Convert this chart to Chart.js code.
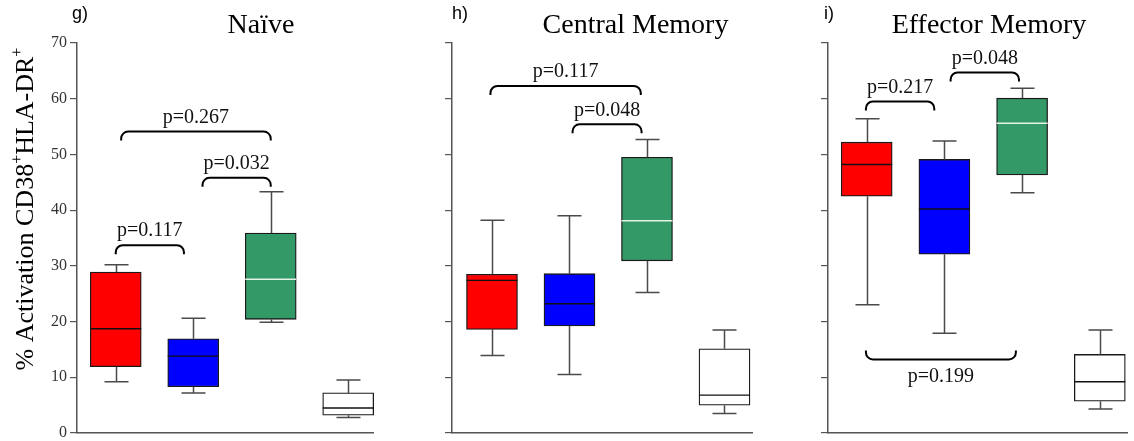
<!DOCTYPE html>
<html>
<head>
<meta charset="utf-8">
<script src="https://cdn.jsdelivr.net/npm/chart.js@4.4.1/dist/chart.umd.min.js"></script>
<style>
  html, body { margin: 0; padding: 0; background: #ffffff; overflow: hidden; }
  #wrap { position: relative; width: 1134px; height: 441px; }
  canvas { position: absolute; top: 0; }
</style>
</head>
<body>
<div id="wrap">
  <canvas id="c0" width="380" height="441" style="left:0px"></canvas>
  <canvas id="c1" width="376" height="441" style="left:380px"></canvas>
  <canvas id="c2" width="378" height="441" style="left:756px"></canvas>
</div>
<script>
// ---- data ----
const groupIndex = [0, 1, 2, 3];
const yTickValues = [0, 10, 20, 30, 40, 50, 60, 70];

const panelTitles = ['Naïve', 'Central Memory', 'Effector Memory'];
const panelTags = ['g)', 'h)', 'i)'];

// Naïve: whisker low, Q1, median, Q3, whisker high
const naiveLow    = [9.2, 7.2, 19.9, 2.8];
const naiveQ1     = [11.9, 8.3, 20.4, 3.2];
const naiveMedian = [18.7, 13.8, 27.6, 4.5];
const naiveQ3     = [28.9, 16.9, 35.9, 7.2];
const naiveHigh   = [30.2, 20.6, 43.3, 9.5];
const naivePValues = ['p=0.117', 'p=0.267', 'p=0.032'];

// Central Memory
const centralLow    = [13.9, 10.5, 25.2, 3.5];
const centralQ1     = [18.6, 19.2, 30.9, 5.0];
const centralMedian = [27.4, 23.2, 38.1, 6.8];
const centralQ3     = [28.5, 28.6, 49.5, 15.1];
const centralHigh   = [38.2, 39.0, 52.7, 18.5];
const centralPValues = ['p=0.117', 'p=0.048'];

// Effector Memory
const effectorLow    = [23.0, 17.9, 43.1, 4.3];
const effectorQ1     = [42.5, 32.1, 46.3, 5.7];
const effectorMedian = [48.2, 40.2, 55.6, 9.2];
const effectorQ3     = [52.2, 49.1, 60.1, 14.1];
const effectorHigh   = [56.4, 52.4, 61.9, 18.5];
const effectorPValues = ['p=0.217', 'p=0.048', 'p=0.199'];

// ---- styling ----
const boxColors = ['#ff0000', '#0000ff', '#339966', '#ffffff'];
const medianColors = ['#111111', '#111111', '#e6f2e6', '#111111'];
const SERIF = '"Liberation Serif", "Times New Roman", serif';
const SANS = '"Liberation Sans", Arial, sans-serif';

const panels = [
  {
    canvas: 'c0', axisWidth: 77, padRight: 7, xMin: -0.5, xMax: 3.32, showLabels: true,
    titleX: 261, tagX: 72,
    stats: { low: naiveLow, q1: naiveQ1, median: naiveMedian, q3: naiveQ3, high: naiveHigh },
    pValues: naivePValues,
    // bracket spans in group units, level in data units; flip opens upward
    brackets: [
      { x0: 0.0,  x1: 0.88, level: 33.7, flip: false },
      { x0: 0.07, x1: 2.0,  level: 54.1, flip: false },
      { x0: 1.12, x1: 2.0,  level: 45.8, flip: false }
    ]
  },
  {
    canvas: 'c1', axisWidth: 72, padRight: 4, xMin: -0.516, xMax: 3.355, showLabels: false,
    titleX: 255.5, tagX: 72,
    stats: { low: centralLow, q1: centralQ1, median: centralMedian, q3: centralQ3, high: centralHigh },
    pValues: centralPValues,
    brackets: [
      { x0: -0.02, x1: 1.92, level: 62.3, flip: false },
      { x0: 1.04,  x1: 1.93, level: 55.4, flip: false }
    ]
  },
  {
    canvas: 'c2', axisWidth: 72, padRight: 7, xMin: -0.498, xMax: 3.35, showLabels: false,
    titleX: 233, tagX: 68,
    stats: { low: effectorLow, q1: effectorQ1, median: effectorMedian, q3: effectorQ3, high: effectorHigh },
    pValues: effectorPValues,
    brackets: [
      { x0: -0.01, x1: 0.87, level: 59.5, flip: false },
      { x0: 1.08,  x1: 1.96, level: 64.7, flip: false },
      { x0: -0.01, x1: 1.92, level: 13.2, flip: true }
    ]
  }
];

function drawBracket(ctx, xa, xb, yLevel, flip) {
  const drop = flip ? -9 : 9;
  const r = 7;
  ctx.beginPath();
  ctx.moveTo(xa, yLevel + drop);
  ctx.arcTo(xa, yLevel, xa + r, yLevel, r);
  ctx.lineTo(xb - r, yLevel);
  ctx.arcTo(xb, yLevel, xb, yLevel + drop, r);
  ctx.lineTo(xb, yLevel + drop);
  ctx.stroke();
}

function drawYTitle(ctx, cx, cy) {
  const main = '26px ' + SERIF;
  const sup = '16px ' + SERIF;
  const parts = [
    ['% Activation CD38', main, 0],
    ['+', sup, -11],
    ['HLA-DR', main, 0],
    ['+', sup, -11]
  ];
  let total = 0;
  parts.forEach(p => { ctx.font = p[1]; p.push(ctx.measureText(p[0]).width); total += p[3]; });
  ctx.save();
  ctx.translate(cx, cy);
  ctx.rotate(-Math.PI / 2);
  ctx.fillStyle = '#000';
  ctx.textAlign = 'left';
  ctx.textBaseline = 'alphabetic';
  let x = -total / 2;
  parts.forEach(p => {
    ctx.font = p[1];
    ctx.fillText(p[0], x, p[2]);
    x += p[3];
  });
  ctx.restore();
}

function makePlugin(panel, idx) {
  return {
    id: 'boxExtras' + idx,
    afterDatasetsDraw(chart) {
      const { ctx, scales: { x, y } } = chart;
      const s = panel.stats;
      const meta = chart.getDatasetMeta(0);
      ctx.save();
      // whiskers and caps
      groupIndex.forEach(i => {
        const cx = Math.round(x.getPixelForValue(i)) + 0.5;
        const half = 12;
        const yHi = y.getPixelForValue(s.high[i]);
        const yQ3 = y.getPixelForValue(s.q3[i]);
        const yQ1 = y.getPixelForValue(s.q1[i]);
        const yLo = y.getPixelForValue(s.low[i]);
        ctx.strokeStyle = '#4a4a4a';
        ctx.lineWidth = 1.5;
        ctx.beginPath();
        ctx.moveTo(cx, yQ3); ctx.lineTo(cx, yHi);
        ctx.moveTo(cx - half, yHi); ctx.lineTo(cx + half, yHi);
        ctx.moveTo(cx, yQ1); ctx.lineTo(cx, yLo);
        ctx.moveTo(cx - half, yLo); ctx.lineTo(cx + half, yLo);
        ctx.stroke();
        // median
        const bar = meta.data[i];
        const ym = y.getPixelForValue(s.median[i]);
        ctx.strokeStyle = medianColors[i];
        ctx.lineWidth = 1.4;
        ctx.beginPath();
        ctx.moveTo(bar.x - bar.width / 2, ym);
        ctx.lineTo(bar.x + bar.width / 2, ym);
        ctx.stroke();
      });
      // significance brackets
      ctx.strokeStyle = '#000';
      ctx.lineWidth = 2;
      ctx.fillStyle = '#111';
      ctx.font = '20px ' + SERIF;
      ctx.textAlign = 'center';
      ctx.textBaseline = 'middle';
      panel.brackets.forEach((b, k) => {
        const xa = x.getPixelForValue(b.x0);
        const xb = x.getPixelForValue(b.x1);
        const yl = y.getPixelForValue(b.level);
        drawBracket(ctx, xa, xb, yl, b.flip);
        const ty = b.flip ? yl + 17 : yl - 14;
        ctx.fillText(panel.pValues[k], (xa + xb) / 2, ty);
      });
      ctx.restore();
    },
    afterDraw(chart) {
      const ctx = chart.ctx;
      ctx.save();
      ctx.fillStyle = '#000';
      ctx.textBaseline = 'alphabetic';
      ctx.textAlign = 'center';
      ctx.font = '28px ' + SERIF;
      ctx.fillText(panelTitles[idx], panel.titleX, 33);
      ctx.textAlign = 'left';
      ctx.font = '18px ' + SANS;
      ctx.fillText(panelTags[idx], panel.tagX, 19);
      ctx.restore();
      if (idx === 0) drawYTitle(ctx, 33, 209);
    }
  };
}

panels.forEach((panel, idx) => {
  const s = panel.stats;
  new Chart(document.getElementById(panel.canvas), {
    type: 'bar',
    data: {
      datasets: [{
        data: groupIndex.map(i => ({ x: i, y: [s.q1[i], s.q3[i]] })),
        backgroundColor: boxColors,
        borderColor: '#1a1a1a',
        borderWidth: 1.3,
        borderSkipped: false,
        barThickness: 51,
        clip: false
      }]
    },
    options: {
      responsive: false,
      animation: false,
      layout: { padding: { left: 0, right: panel.padRight, top: 43, bottom: 8 } },
      plugins: { legend: { display: false }, tooltip: { enabled: false } },
      scales: {
        x: {
          type: 'linear',
          offset: false,
          min: panel.xMin,
          max: panel.xMax,
          grid: { display: false, offset: false },
          ticks: { display: false },
          border: { display: true, color: '#555', width: 1.5 },
          afterFit(sc) { sc.height = 0; sc.paddingLeft = 0; sc.paddingRight = 0; }
        },
        y: {
          min: 0,
          max: 70,
          afterBuildTicks(sc) { sc.ticks = yTickValues.map(v => ({ value: v })); },
          ticks: {
            padding: 3,
            color: '#333',
            font: { family: SERIF, size: 16 },
            callback: v => panel.showLabels ? String(v) : ''
          },
          grid: { drawOnChartArea: false, drawTicks: true, tickLength: 7, color: '#555', lineWidth: 1.2 },
          border: { display: true, color: '#555', width: 1.5 },
          afterFit(sc) { sc.width = panel.axisWidth; sc.paddingTop = 0; sc.paddingBottom = 0; }
        }
      }
    },
    plugins: [makePlugin(panel, idx)]
  });
});
</script>
</body>
</html>
